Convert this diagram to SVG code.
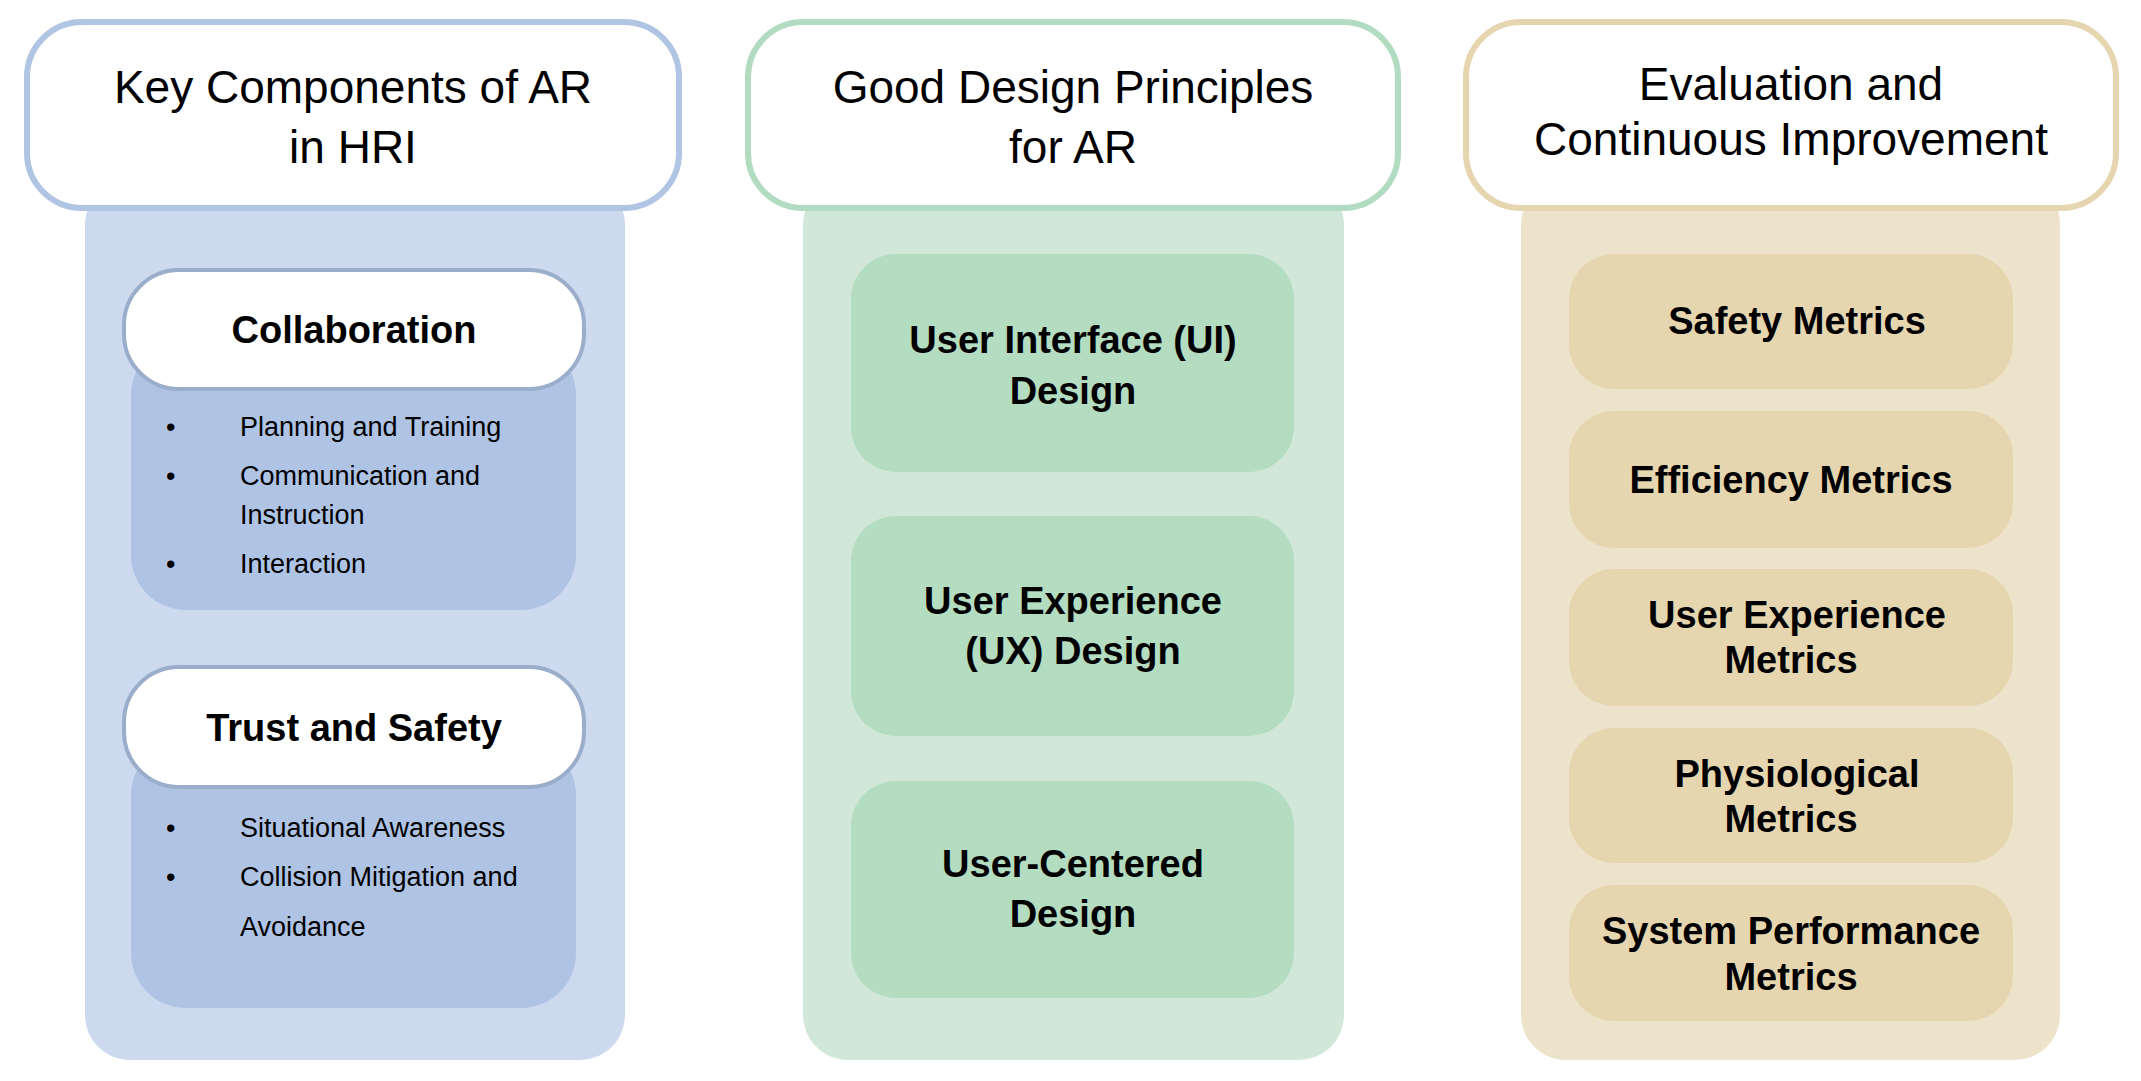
<svg xmlns="http://www.w3.org/2000/svg" width="2141" height="1081" viewBox="0 0 2141 1081">
<style>
text{font-family:"Liberation Sans",Arial,sans-serif;fill:#000;text-anchor:middle}
.h{font-size:46px}
.b{font-size:38px;font-weight:bold}
.s{font-size:27px;text-anchor:start}
.hb{fill:#fff;stroke-width:6}
</style>
<rect width="2141" height="1081" fill="#fff"/>
<g id="col1">
<rect x="85" y="180" width="540" height="880" rx="45" fill="#cdd9ef"/>
<rect x="27" y="22" width="652" height="186" rx="55" class="hb" stroke="#b0c4e4"/>
<text class="h" x="353" y="103">Key Components of AR</text>
<text class="h" x="353" y="163">in HRI</text>
</g>
<g id="collab">
<rect x="131" y="340" width="445" height="270" rx="55" fill="#afc3e4"/>
<rect x="124" y="270" width="460" height="119" rx="55" fill="#fff" stroke="#9aaecb" stroke-width="4"/>
<text class="b" x="354" y="343">Collaboration</text>
<text class="s" x="166" y="436">•</text><text class="s" x="240" y="436">Planning and Training</text>
<text class="s" x="166" y="485">•</text><text class="s" x="240" y="485">Communication and</text>
<text class="s" x="240" y="524">Instruction</text>
<text class="s" x="166" y="573">•</text><text class="s" x="240" y="573">Interaction</text>
</g>
<g id="trust">
<rect x="131" y="740" width="445" height="268" rx="55" fill="#afc3e4"/>
<rect x="124" y="667" width="460" height="120" rx="55" fill="#fff" stroke="#9aaecb" stroke-width="4"/>
<text class="b" x="354" y="741">Trust and Safety</text>
<text class="s" x="166" y="837">•</text><text class="s" x="240" y="837">Situational Awareness</text>
<text class="s" x="166" y="886">•</text><text class="s" x="240" y="886">Collision Mitigation and</text>
<text class="s" x="240" y="936">Avoidance</text>
</g>
<g id="col2">
<rect x="803" y="180" width="541" height="880" rx="45" fill="#d1e8d8"/>
<rect x="748" y="22" width="650" height="186" rx="55" class="hb" stroke="#b2dcc1"/>
<text class="h" x="1073" y="103">Good Design Principles</text>
<text class="h" x="1073" y="163">for AR</text>
</g>
<g id="ui"><rect x="851" y="254" width="443" height="218" rx="45" fill="#b3dcc1"/>
<text class="b" x="1073" y="353">User Interface (UI)</text><text class="b" x="1073" y="404">Design</text></g>
<g id="ux"><rect x="851" y="516" width="443" height="220" rx="45" fill="#b3dcc1"/>
<text class="b" x="1073" y="614">User Experience</text><text class="b" x="1073" y="664">(UX) Design</text></g>
<g id="ucd"><rect x="851" y="781" width="443" height="217" rx="45" fill="#b3dcc1"/>
<text class="b" x="1073" y="877">User-Centered</text><text class="b" x="1073" y="927">Design</text></g>
<g id="col3">
<rect x="1521" y="180" width="539" height="880" rx="45" fill="#ede3cb"/>
<rect x="1466" y="22" width="650" height="186" rx="55" class="hb" stroke="#e6d6b0"/>
<text class="h" x="1791" y="100">Evaluation and</text>
<text class="h" x="1791" y="155">Continuous Improvement</text>
</g>
<g id="m1"><rect x="1569" y="254" width="444" height="135" rx="45" fill="#e5d6b0"/><text class="b" x="1797" y="334">Safety Metrics</text></g>
<g id="m2"><rect x="1569" y="411" width="444" height="137" rx="45" fill="#e5d6b0"/><text class="b" x="1791" y="493">Efficiency Metrics</text></g>
<g id="m3"><rect x="1569" y="569" width="444" height="137" rx="45" fill="#e5d6b0"/><text class="b" x="1797" y="628">User Experience</text><text class="b" x="1791" y="673">Metrics</text></g>
<g id="m4"><rect x="1569" y="728" width="444" height="135" rx="45" fill="#e5d6b0"/><text class="b" x="1797" y="787">Physiological</text><text class="b" x="1791" y="832">Metrics</text></g>
<g id="m5"><rect x="1569" y="885" width="444" height="136" rx="45" fill="#e5d6b0"/><text class="b" x="1791" y="944">System Performance</text><text class="b" x="1791" y="990">Metrics</text></g>
<g id="connectors"/>
</svg>
